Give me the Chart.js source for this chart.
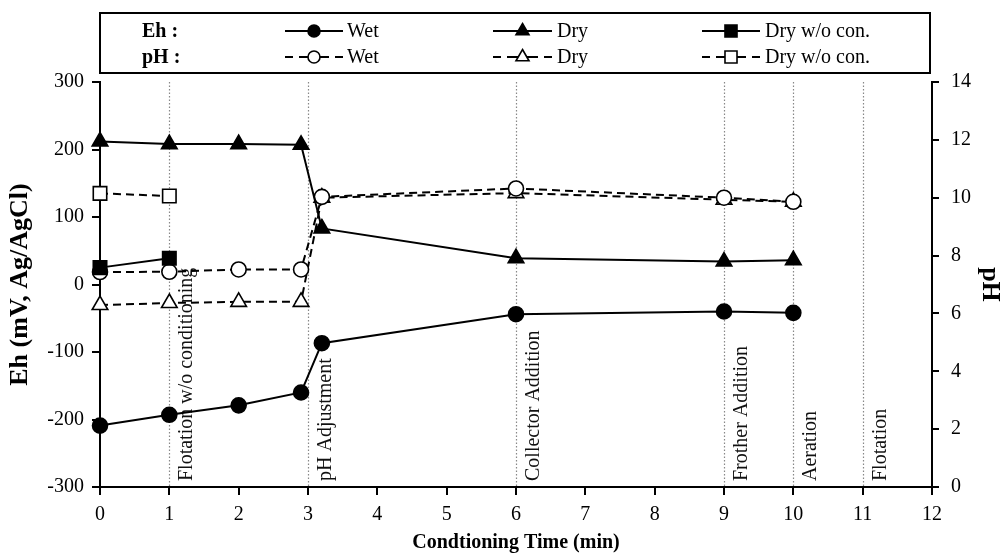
<!DOCTYPE html>
<html>
<head>
<meta charset="utf-8">
<script src="https://cdn.jsdelivr.net/npm/chart.js@4.4.1/dist/chart.umd.min.js"></script>
<style>
html,body{margin:0;padding:0;background:#fff;}
#wrap{width:1008px;height:556px;position:relative;}
</style>
</head>
<body>
<div id="wrap"><canvas id="c" width="1008" height="556"></canvas></div>
<script>
// ---- data ----
const times = [0, 1, 2, 2.9, 3.2, 6, 9, 10];
const timesNoCon = [0, 1];
const ehWet = [-209, -193, -179, -160, -87, -44, -40, -42];
const ehDry = [212, 208, 208, 207, 83, 39, 34, 36];
const ehDryNoCon = [25, 39];
const phWet = [7.43, 7.44, 7.52, 7.52, 10.03, 10.32, 10.0, 9.86];
const phDry = [6.29, 6.36, 6.4, 6.4, 10.0, 10.16, 9.93, 9.86];
const phDryNoCon = [10.15, 10.06];
const eventTimes = [1, 3, 6, 9, 10, 11];
const eventLabels = ["Flotation w/o conditioning", "pH Adjustment", "Collector Addition", "Frother Addition", "Aeration", "Flotation"];
const xTicks = [0,1,2,3,4,5,6,7,8,9,10,11,12];
const ehTicks = [-300,-200,-100,0,100,200,300];
const phTicks = [0,2,4,6,8,10,12,14];

const FONT = "'Liberation Serif','Times New Roman',serif";
const pts = (xs, ys) => xs.map((x, i) => ({x: x, y: ys[i]}));

const common = {borderColor:'#000', pointBorderColor:'#000', borderWidth:2, pointBorderWidth:1.6, tension:0, clip:false};
const datasets = [
  Object.assign({label:'Eh Wet', data:pts(times, ehWet), yAxisID:'y', pointStyle:'circle', pointRadius:7.5, pointBackgroundColor:'#000'}, common),
  Object.assign({label:'Eh Dry', data:pts(times, ehDry), yAxisID:'y', pointStyle:'triangle', pointRadius:9, pointBackgroundColor:'#000'}, common),
  Object.assign({label:'Eh Dry w/o con.', data:pts(timesNoCon, ehDryNoCon), yAxisID:'y', pointStyle:'rect', pointRadius:9.5, pointBackgroundColor:'#000'}, common),
  Object.assign({label:'pH Wet', data:pts(times, phWet), yAxisID:'y2', pointStyle:'circle', pointRadius:7.5, pointBackgroundColor:'#fff', borderDash:[8,5]}, common),
  Object.assign({label:'pH Dry', data:pts(times, phDry), yAxisID:'y2', pointStyle:'triangle', pointRadius:9, pointBackgroundColor:'#fff', borderDash:[8,5]}, common),
  Object.assign({label:'pH Dry w/o con.', data:pts(timesNoCon, phDryNoCon), yAxisID:'y2', pointStyle:'rect', pointRadius:9.5, pointBackgroundColor:'#fff', borderDash:[8,5]}, common)
];

function drawMarker(ctx, style, x, y, r, fill) {
  ctx.save();
  ctx.beginPath();
  if (style === 'circle') ctx.arc(x, y, r, 0, Math.PI*2);
  else if (style === 'triangle') {
    let a = 0;
    ctx.moveTo(x + Math.sin(a)*r, y - Math.cos(a)*r);
    a += 2*Math.PI/3; ctx.lineTo(x + Math.sin(a)*r, y - Math.cos(a)*r);
    a += 2*Math.PI/3; ctx.lineTo(x + Math.sin(a)*r, y - Math.cos(a)*r);
    ctx.closePath();
  } else {
    const s = Math.SQRT1_2 * r;
    ctx.rect(x - s, y - s, 2*s, 2*s);
  }
  ctx.fillStyle = fill; ctx.fill();
  ctx.lineWidth = 1.6; ctx.strokeStyle = '#000'; ctx.setLineDash([]); ctx.stroke();
  ctx.restore();
}

const eventPlugin = {
  id: 'events',
  beforeDatasetsDraw(chart) {
    const ctx = chart.ctx, xs = chart.scales.x, a = chart.chartArea;
    ctx.save();
    eventTimes.forEach((t, i) => {
      const px = Math.round(xs.getPixelForValue(t)) + 0.5;
      ctx.beginPath();
      ctx.setLineDash([1.5, 2]);
      ctx.strokeStyle = '#888';
      ctx.lineWidth = 1.2;
      ctx.moveTo(px, a.top); ctx.lineTo(px, a.bottom);
      ctx.stroke();
      ctx.save();
      ctx.translate(px + 7, a.bottom - 6);
      ctx.rotate(-Math.PI/2);
      ctx.font = "20px " + FONT;
      ctx.fillStyle = '#111';
      ctx.textAlign = 'left';
      ctx.textBaseline = 'top';
      ctx.fillText(eventLabels[i], 0, 0);
      ctx.restore();
    });
    ctx.restore();
  }
};

const legendPlugin = {
  id: 'customLegend',
  afterDraw(chart) {
    const ctx = chart.ctx;
    ctx.save();
    ctx.setLineDash([]);
    ctx.strokeStyle = '#000'; ctx.lineWidth = 2;
    ctx.strokeRect(100, 13, 830, 60);
    ctx.font = "bold 20px " + FONT;
    ctx.fillStyle = '#000';
    ctx.textBaseline = 'middle';
    ctx.textAlign = 'left';
    const rows = [{y: 31, dashed: false, head: 'Eh :'}, {y: 57, dashed: true, head: 'pH :'}];
    const cols = [{x0:285, x1:343, tx:347, label:'Wet', st:'circle', r:6},
                  {x0:493, x1:552, tx:557, label:'Dry', st:'triangle', r:7.5},
                  {x0:702, x1:760, tx:765, label:'Dry w/o con.', st:'rect', r:8.5}];
    rows.forEach(row => {
      ctx.font = "bold 20px " + FONT;
      ctx.fillText(row.head, 142, row.y + 1);
      ctx.font = "20px " + FONT;
      cols.forEach(c => {
        const mid = (c.x0 + c.x1) / 2;
        ctx.save();
        ctx.lineWidth = 2;
        ctx.beginPath();
        if (row.dashed) {
          ctx.moveTo(c.x0, row.y); ctx.lineTo(c.x0 + 8, row.y);
          ctx.moveTo(c.x0 + 14, row.y); ctx.lineTo(c.x1 - 14, row.y);
          ctx.moveTo(c.x1 - 8, row.y); ctx.lineTo(c.x1, row.y);
        } else {
          ctx.moveTo(c.x0, row.y); ctx.lineTo(c.x1, row.y);
        }
        ctx.stroke();
        ctx.restore();
        drawMarker(ctx, c.st, mid, row.y, c.r, row.dashed ? '#fff' : '#000');
        ctx.fillStyle = '#000';
        ctx.fillText(c.label, c.tx, row.y + 1);
      });
    });
    ctx.restore();
  }
};

const tickFont = {family: FONT, size: 20};

new Chart(document.getElementById('c'), {
  type: 'line',
  data: {datasets: datasets},
  plugins: [eventPlugin, legendPlugin],
  options: {
    responsive: false,
    animation: false,
    layout: {padding: {left: 0, right: 0, top: 82, bottom: 0}},
    plugins: {legend: {display: false}, tooltip: {enabled: false}},
    scales: {
      x: {
        type: 'linear', min: 0, max: 12,
        afterBuildTicks(s) { s.ticks = xTicks.map(v => ({value: v})); },
        afterFit(s) { s.height = 69; },
        ticks: {font: tickFont, color: '#000', padding: 8, maxRotation: 0},
        grid: {display: true, drawOnChartArea: false, drawTicks: true, tickLength: 8, color: '#000', lineWidth: 2},
        border: {display: true, color: '#000', width: 2},
        title: {display: true, text: 'Condtioning Time (min)', font: {family: FONT, size: 20, weight: 'bold'}, color: '#000', padding: {top: 0, bottom: 1}}
      },
      y: {
        type: 'linear', position: 'left', min: -300, max: 300,
        afterBuildTicks(s) { s.ticks = ehTicks.map(v => ({value: v})); },
        afterFit(s) { s.width = 100; },
        ticks: {font: tickFont, color: '#000', padding: 8},
        grid: {display: true, drawOnChartArea: false, drawTicks: true, tickLength: 8, color: '#000', lineWidth: 2},
        border: {display: true, color: '#000', width: 2},
        title: {display: true, text: 'Eh (mV, Ag/AgCl)', font: {family: FONT, size: 26, weight: 'bold'}, color: '#000', padding: {top: 5, bottom: 0}}
      },
      y2: {
        type: 'linear', position: 'right', min: 0, max: 14,
        afterBuildTicks(s) { s.ticks = phTicks.map(v => ({value: v})); },
        afterFit(s) { s.width = 76; },
        ticks: {font: tickFont, color: '#000', padding: 12},
        grid: {display: true, drawOnChartArea: false, drawTicks: true, tickLength: 7, color: '#000', lineWidth: 2},
        border: {display: true, color: '#000', width: 2},
        title: {display: true, text: 'pH', font: {family: FONT, size: 26, weight: 'bold'}, color: '#000', padding: {top: 3, bottom: 0}}
      }
    }
  }
});
</script>
</body>
</html>
